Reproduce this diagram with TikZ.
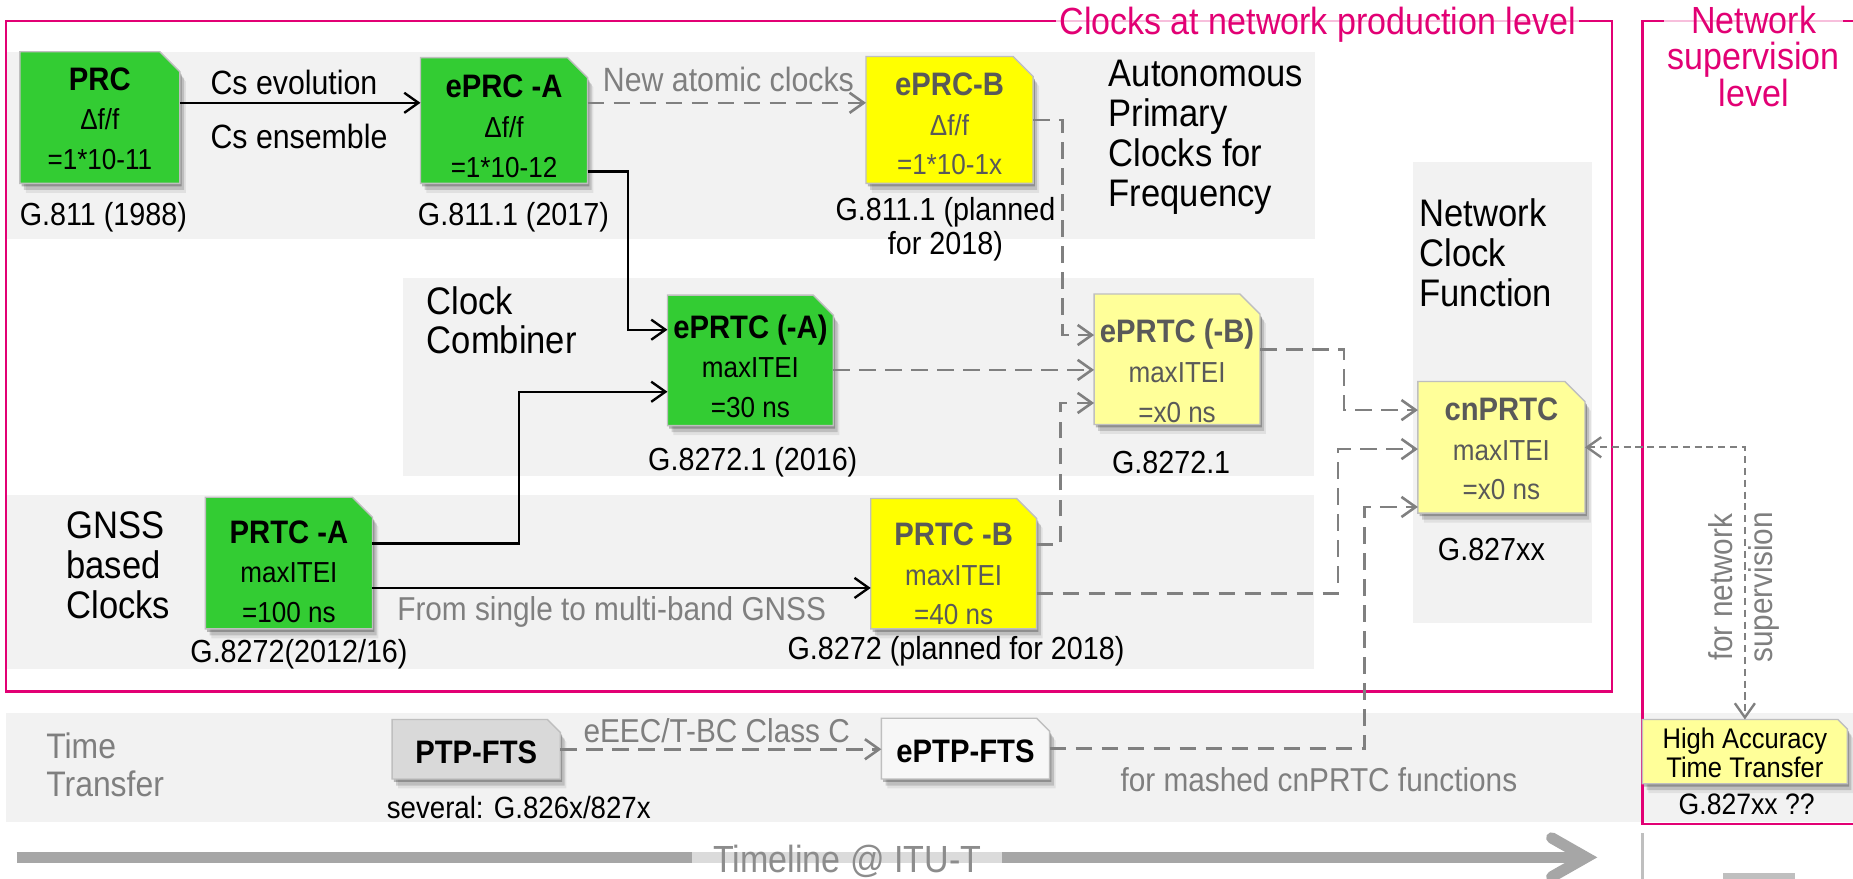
\documentclass[tikz,border=0pt]{standalone}
\usepackage{fontspec}
\setmainfont{Liberation Sans}[FakeStretch=0.9]
\usetikzlibrary{shadows,arrows.meta}

\definecolor{tmagenta}{HTML}{E20074}
\definecolor{bandgray}{HTML}{F2F2F2}
\definecolor{boxline}{HTML}{BFBFBF}
\definecolor{clkgreen}{HTML}{33CC33}
\definecolor{clkyellow}{HTML}{FFFF00}
\definecolor{clkpale}{HTML}{FFFF99}
\definecolor{ptpgray}{HTML}{D9D9D9}
\definecolor{ptplight}{HTML}{F7F7F7}
\definecolor{linegray}{HTML}{808080}
\definecolor{textgray}{HTML}{7F7F7F}
\definecolor{darktext}{HTML}{595959}
\definecolor{bargray}{HTML}{A6A6A6}
\definecolor{timegray}{HTML}{8C8C8C}

\newcommand\boxhead[1]{{\fontsize{27.5}{33.5}\selectfont\bfseries #1}}

% clock box: name, centre, width, height, fill style, text drop, text style, text, corner fold
\newcommand\clockbox[9]{%
  \node[boxframe, minimum width=#3, minimum height=#4] (#1) at (#2) {};
  \filldraw[docshape, #5] (#1.south west) -- (#1.north west)
    -- ([xshift=-#9]#1.north east) -- ([yshift=-#9]#1.north east)
    -- (#1.south east) -- cycle;
  \node[boxtext, #7] (#1-text) at ([yshift=-#6]#1.center) {#8};
}

\tikzset{
  boxframe/.style={rectangle, inner sep=0pt, draw=none},
  docshape/.style={draw=boxline, line width=1.2pt, line join=miter,
    drop shadow={shadow xshift=1.5pt, shadow yshift=-2.5pt, fill=black, opacity=.25},
    drop shadow={shadow xshift=3.5pt, shadow yshift=-5.5pt, fill=black, opacity=.15},
    drop shadow={shadow xshift=5pt, shadow yshift=-8pt, fill=black, opacity=.07}},
  boxtext/.style={align=center, inner sep=0pt, font=\fontsize{24.5}{33.5}\selectfont},
  lbl/.style={inner sep=0pt, font=\fontsize{27}{33.5}\selectfont},
  glbl/.style={lbl, text=textgray, font=\fontsize{28}{33.5}\selectfont},
  grouplbl/.style={inner sep=0pt, align=left, anchor=west, font=\fontsize{32.5}{33.8}\selectfont},
  band/.style={fill=bandgray, draw=none},
  magline/.style={draw=tmagenta, line width=2pt},
  leveltitle/.style={text=tmagenta, font=\fontsize{32}{31}\selectfont,
    fill=white, fill opacity=.75, text opacity=1, inner xsep=3pt, inner ysep=0pt},
  solidlink/.style={draw=black, line width=2pt, -{Straight Barb[length=12pt,width=17pt]}},
  dashlink/.style={draw=linegray, line width=2.2pt, dash pattern=on 14pt off 8pt,
    -{Straight Barb[length=12pt,width=17pt]}},
  superlink/.style={draw=linegray, line width=2pt, dash pattern=on 6pt off 4pt,
    {Straight Barb[length=12pt,width=17pt]}-{Straight Barb[length=12pt,width=17pt]}},
  timebar/.style={draw=bargray, line width=9.5pt},
}

\begin{document}
\begin{tikzpicture}[x=1pt, y=-1pt]
\useasboundingbox (0,0) rectangle (1568,743);
\clip (0,0) rectangle (1568,743);

% grey rows
\fill[band] (5,44) rectangle (1113,202);
\fill[band] (341,235) rectangle (1112,403);
\fill[band] (5,419) rectangle (1112,566);
\fill[band] (1196,137) rectangle (1347,527);
\fill[band] (5,603) rectangle (1568,695.5);

% level frames
\draw[magline] (5,18) rectangle (1364,585);
\draw[magline] (1580,18) -- (1390,18) -- (1390,697) -- (1580,697);

% clocks
\clockbox{prc}{84.5,99.5}{135}{111}{fill=clkgreen}{1pt}{}{\boxhead{PRC}\\Δf/f\\=1*10-11}{17pt}
\clockbox{eprca}{426.5,102}{141}{106}{fill=clkgreen}{4.8pt}{}{\boxhead{ePRC -A}\\Δf/f\\=1*10-12}{17pt}
\clockbox{eprcb}{803.5,101.5}{141}{107}{fill=clkyellow}{3.5pt}{text=darktext}{\boxhead{ePRC-B}\\Δf/f\\=1*10-1x}{17pt}
\clockbox{eprtca}{635,305}{140}{110}{fill=clkgreen}{4.8pt}{}{\boxhead{ePRTC (-A)}\\maxITEI\\=30 ns}{17pt}
\clockbox{eprtcb}{996,304}{140}{110}{fill=clkpale}{9.8pt}{text=darktext}{\boxhead{ePRTC (-B)}\\maxITEI\\=x0 ns}{17pt}
\clockbox{prtca}{244.5,476.5}{141}{111}{fill=clkgreen}{7.3pt}{}{\boxhead{PRTC -A}\\maxITEI\\=100 ns}{17pt}
\clockbox{prtcb}{807,477}{140}{110}{fill=clkyellow}{8.7pt}{text=darktext}{\boxhead{PRTC -B}\\maxITEI\\=40 ns}{17pt}
\clockbox{cnprtc}{1270.5,378.5}{141}{111}{fill=clkpale}{1.5pt}{text=darktext}{\boxhead{cnPRTC}\\maxITEI\\=x0 ns}{17pt}
\clockbox{ptp}{403,634}{142}{50}{fill=ptpgray}{3pt}{}{\boxhead{PTP-FTS}}{11pt}
\clockbox{eptp}{817,633.5}{142}{51}{fill=ptplight}{2.5pt}{}{\boxhead{ePTP-FTS}}{11pt}
\clockbox{hatt}{1476.5,636}{173}{54}{fill=clkpale}{1pt}{font=\fontsize{24}{24}\selectfont}{High Accuracy\\Time Transfer}{8pt}

% connectors
\draw[solidlink] ([yshift=12.5pt]prc.east) -- ([yshift=12.5pt]prc.east -| eprca.west);
\draw[dashlink] ([yshift=15pt]eprca.east) -- ([yshift=15pt]eprca.east -| eprcb.west);
\draw[solidlink] ([yshift=-43pt]eprca.east) -- ++(34,0) |- ([yshift=26pt]eprtca.west);
\draw[solidlink] ([yshift=16.5pt]prtca.east) -- ++(124,0) |- ([yshift=-26.5pt]eprtca.west);
\draw[solidlink] ([yshift=-21pt]prtca.east) -- ([yshift=-21pt]prtca.east -| prtcb.west);
\draw[dashlink] ([yshift=-8pt]eprtca.east) -- ([yshift=-8pt]eprtca.east -| eprtcb.west);
\draw[dashlink] (eprcb.east) -- ++(25,0) |- ([yshift=20.5pt]eprtcb.west);
\draw[dashlink] ([yshift=16pt]prtcb.east) -- ++(20,0) |- ([yshift=-37pt]eprtcb.west);
\draw[dashlink] ([yshift=8.5pt]eprtcb.east) -- ++(71,0) |- ([yshift=31.5pt]cnprtc.west);
\draw[dashlink] ([yshift=-25pt]prtcb.east) -- ++(255,0) |- ([yshift=-1.5pt]cnprtc.west);
\draw[dashlink] (eptp.east) -- ++(266.5,0) |- ([yshift=-50.5pt]cnprtc.west);
\draw[dashlink] (ptp.east) -- (ptp.east -| eptp.west);
\draw[superlink] (cnprtc.east) -| (hatt.north);

% labels
\node[lbl, anchor=base west, font=\fontsize{28.5}{33.5}\selectfont] (csevo) at (178,80) {Cs evolution};
\node[lbl, anchor=base west, font=\fontsize{28.5}{33.5}\selectfont] (csens) at (178,125.6) {Cs ensemble};
\node[glbl, anchor=base west, font=\fontsize{28.5}{33.5}\selectfont] (newatomic) at (510,77.6) {New atomic clocks};
\node[lbl, anchor=base] (g811) at (87.5,190.5) {G.811 (1988)};
\node[lbl, anchor=base] (g8111) at (434.5,190.5) {G.811.1 (2017)};
\node[lbl, align=center, font=\fontsize{27}{29}\selectfont] (g8111p) at (800,194) {G.811.1 (planned\\for 2018)};
\node[grouplbl] (autonomous) at (938,116) {Autonomous\\Primary\\Clocks for\\Frequency};
\node[grouplbl] (combiner) at (361,271) {Clock\\Combiner};
\node[grouplbl] (ncf) at (1201,214) {Network\\Clock\\Function};
\node[grouplbl] (gnss) at (56,478) {GNSS\\based\\Clocks};
\node[lbl] (g82721a) at (637,391) {G.8272.1 (2016)};
\node[lbl] (g82721b) at (991,391) {G.8272.1};
\node[lbl] (g8272a) at (253,554) {G.8272(2012/16)};
\node[lbl] (g8272b) at (809,551.5) {G.8272 (planned for 2018)};
\node[glbl, anchor=west] (multiband) at (336,518) {From single to multi-band GNSS};
\node[lbl] (g827xx) at (1262,465) {G.827xx};
\node[glbl, rotate=90, align=center, font=\fontsize{28}{34}\selectfont] (supnote) at (1476,497) {for network\\supervision};
\node[lbl, font=\fontsize{25}{30}\selectfont] (g827q) at (1478,681) {G.827xx ??};
\node[glbl, align=left, anchor=west, font=\fontsize{30}{32.5}\selectfont] (timetransfer) at (39,647) {Time\\Transfer};
\node[lbl, font=\fontsize{26}{30}\selectfont] (several) at (439,683) {several: G.826x/827x};
\node[glbl] (eeec) at (606.5,618) {eEEC/T-BC Class C};
\node[glbl] (mashed) at (1116,660) {for mashed cnPRTC functions};

% level titles
\node[leveltitle, anchor=base] (prodtitle) at (1115,29.6) {Clocks at network production level};
\node[leveltitle, align=center] (suptitle) at (1484,47.5) {Network\\supervision\\level};

% timeline
\coordinate (tl-start) at (14,725.5);
\coordinate (tl-tip) at (1342,725.5);
\draw[timebar] (tl-start) -- ([xshift=-8pt]tl-tip);
\node[fill=white, fill opacity=.6, text opacity=1, text=timegray, inner xsep=18pt, inner ysep=2pt,
  font=\fontsize{32}{32}\selectfont] (timeline) at (717,729) {Timeline @ ITU-T};
\draw[timebar, line cap=round, line join=miter] ([shift={(-29pt,16.5pt)}]tl-tip) -- (tl-tip) -- ([shift={(-29pt,-16.5pt)}]tl-tip);

% next timeline fragment
\draw[draw=boxline, line width=2pt] (1390,705) -- (1390,745);
\fill[boxline] (1458,739) rectangle (1519,746);
\end{tikzpicture}
\end{document}
